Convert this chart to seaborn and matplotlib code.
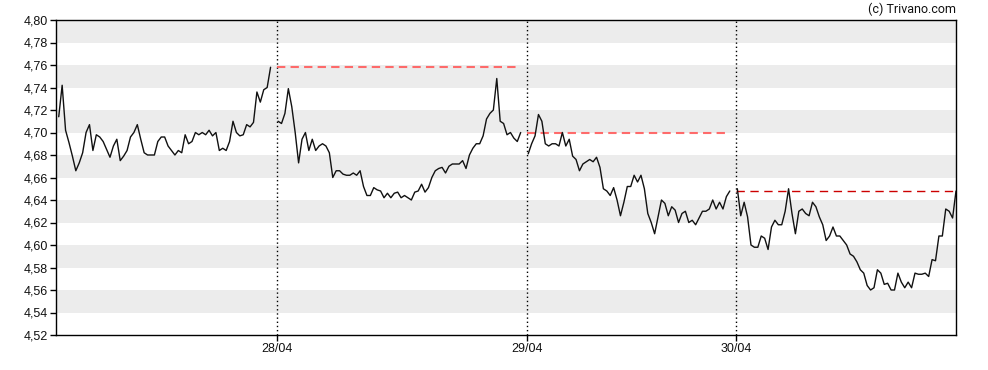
import numpy as np
import pandas as pd
import matplotlib
matplotlib.use("Agg")
import matplotlib.pyplot as plt
import seaborn as sns

# ---- data ----
day1 = [4.714, 4.742, 4.702, 4.691, 4.679, 4.666, 4.673, 4.682, 4.700, 4.707,
        4.684, 4.698, 4.696, 4.692, 4.685, 4.678, 4.688, 4.694, 4.675, 4.679,
        4.684, 4.696, 4.700, 4.707, 4.694, 4.682, 4.680, 4.680, 4.680, 4.692,
        4.696, 4.696, 4.688, 4.684, 4.680, 4.684, 4.682, 4.698, 4.690, 4.692,
        4.700, 4.698, 4.700, 4.698, 4.702, 4.697, 4.700, 4.684, 4.686, 4.684,
        4.692, 4.710, 4.700, 4.697, 4.698, 4.707, 4.705, 4.709, 4.736, 4.727,
        4.738, 4.740, 4.758]
day2 = [4.710, 4.708, 4.717, 4.739, 4.723, 4.700, 4.673, 4.694, 4.700, 4.684,
        4.694, 4.684, 4.688, 4.690, 4.688, 4.682, 4.660, 4.666, 4.666, 4.663,
        4.662, 4.662, 4.664, 4.662, 4.666, 4.652, 4.644, 4.644, 4.651, 4.649,
        4.648, 4.642, 4.646, 4.642, 4.646, 4.647, 4.642, 4.644, 4.642, 4.640,
        4.647, 4.648, 4.654, 4.647, 4.651, 4.660, 4.666, 4.668, 4.669, 4.664,
        4.670, 4.672, 4.672, 4.672, 4.675, 4.668, 4.680, 4.686, 4.690, 4.690,
        4.697, 4.712, 4.717, 4.720, 4.748, 4.710, 4.708, 4.698, 4.700, 4.695,
        4.692, 4.700]
day3 = [4.681, 4.690, 4.697, 4.716, 4.710, 4.690, 4.688, 4.690, 4.690, 4.688,
        4.700, 4.688, 4.694, 4.679, 4.676, 4.666, 4.672, 4.674, 4.676, 4.674,
        4.678, 4.669, 4.650, 4.648, 4.644, 4.651, 4.640, 4.626, 4.638, 4.652,
        4.652, 4.662, 4.656, 4.662, 4.650, 4.628, 4.620, 4.610, 4.625, 4.640,
        4.637, 4.626, 4.634, 4.631, 4.620, 4.628, 4.630, 4.620, 4.622, 4.618,
        4.624, 4.630, 4.630, 4.632, 4.640, 4.632, 4.638, 4.632, 4.643, 4.648]
day4 = [4.650, 4.626, 4.638, 4.625, 4.600, 4.598, 4.598, 4.608, 4.606, 4.596,
        4.616, 4.622, 4.618, 4.618, 4.630, 4.650, 4.628, 4.610, 4.630, 4.632,
        4.628, 4.626, 4.638, 4.634, 4.625, 4.618, 4.604, 4.608, 4.616, 4.608,
        4.608, 4.604, 4.600, 4.592, 4.590, 4.585, 4.578, 4.575, 4.564, 4.560,
        4.562, 4.578, 4.575, 4.565, 4.566, 4.560, 4.560, 4.575, 4.567, 4.562,
        4.567, 4.562, 4.575, 4.574, 4.574, 4.575, 4.572, 4.587, 4.586, 4.608,
        4.608, 4.632, 4.630, 4.624, 4.648]
day_labels = ["28/04", "29/04", "30/04"]
prev_close = [4.758, 4.700, 4.648]
y_ticks = [4.52, 4.54, 4.56, 4.58, 4.60, 4.62, 4.64, 4.66, 4.68, 4.70,
           4.72, 4.74, 4.76, 4.78, 4.80]

# ---- build table ----
days = [day1, day2, day3, day4]
gap = 2.2
frames, starts, ends = [], [], []
pos = 0.0
for d, vals in enumerate(days):
    idx = pos + np.arange(len(vals))
    starts.append(pos)
    ends.append(idx[-1])
    frames.append(pd.DataFrame({"x": idx, "price": vals, "day": d}))
    pos = idx[-1] + gap
df = pd.concat(frames, ignore_index=True)

sns.set_style("white")
plt.rcParams["font.family"] = ["Roboto", "DejaVu Sans"]

fig = plt.figure(figsize=(9.88, 3.70), dpi=100)
ax = fig.add_axes([56 / 988, 35 / 370, 900 / 988, 315 / 370])

xmin, xmax = -0.8, ends[-1]
ax.set_xlim(xmin, xmax)
ax.set_ylim(y_ticks[0], y_ticks[-1])

# alternating bands
for i in range(len(y_ticks) - 1):
    if i % 2 == 1:
        ax.axhspan(y_ticks[i], y_ticks[i + 1], color="#ececec", lw=0, zorder=0)

seps = [s - 0.3 for s in starts[1:]]
# day separators
for s in seps:
    ax.axvline(s, color="black", lw=1, ls=(0, (1, 2)), zorder=1)

# previous close lines
ax.plot([seps[0], ends[1] - 0.5], [prev_close[0]] * 2, color="#ff5c5c",
        lw=1.5, ls=(0, (4, 2.5)), alpha=0.9, zorder=2)
ax.plot([seps[1], ends[2]], [prev_close[1]] * 2, color="#ff5c5c",
        lw=1.5, ls=(0, (4, 2.5)), alpha=0.9, zorder=2)
ax.plot([seps[2], xmax], [prev_close[2]] * 2, color="#cc0000",
        lw=1.0, ls=(0, (6, 4)), zorder=2)

sns.lineplot(data=df, x="x", y="price", units="day", estimator=None,
             color="#111111", lw=1.0, ax=ax, zorder=3, legend=False)

ax.set_yticks(y_ticks)
ax.set_yticklabels([f"{v:.2f}".replace(".", ",") for v in y_ticks],
                   family=["Liberation Sans", "DejaVu Sans"])
ax.set_xticks(seps)
ax.set_xticklabels(day_labels, family=["Liberation Sans", "DejaVu Sans"])
ax.set_xlabel("")
ax.set_ylabel("")
ax.tick_params(axis="both", which="both", direction="out", length=4, width=1,
               color="black", labelsize=9, labelcolor="#111111", pad=2,
               left=True, bottom=True)
for s in ax.spines.values():
    s.set_visible(True)
    s.set_color("black")
    s.set_linewidth(1)

fig.text(956 / 988, 1 - 9 / 370, "(c) Trivano.com", ha="right", va="center",
         fontsize=9, color="#111111")

fig.savefig("out.png", dpi=100)
